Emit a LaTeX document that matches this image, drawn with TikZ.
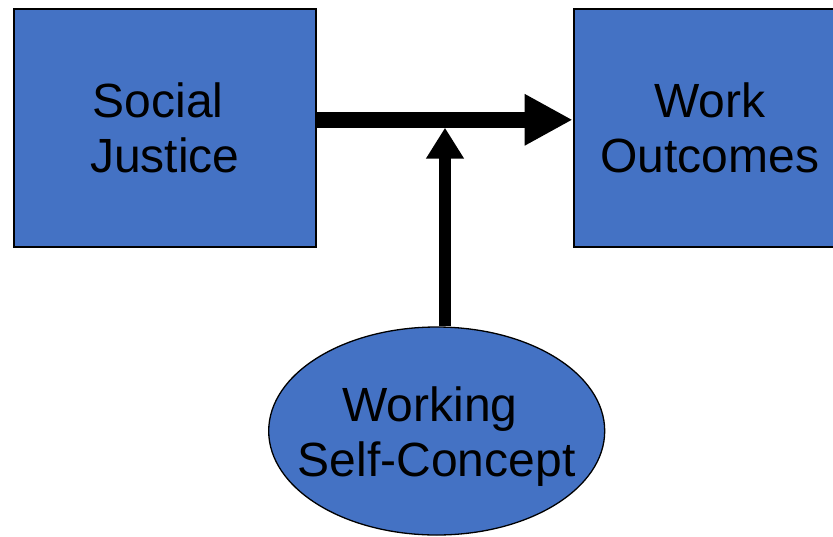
\documentclass[tikz,border=0pt]{standalone}
\usepackage{fontspec}
\setmainfont{Liberation Sans}
\usetikzlibrary{arrows.meta,shapes.geometric}
\definecolor{boxblue}{HTML}{4472C4}
\tikzset{
  concept/.style={draw=black, fill=boxblue, line width=2pt, inner sep=0pt},
  conceptbox/.style={concept, rectangle, align=center, font=\fontsize{48}{55}\selectfont},
  conceptoval/.style={concept, ellipse, line width=1.3pt},
  concepttext/.style={inner sep=0pt, align=center, font=\fontsize{48}{55}\selectfont},
  bigarrow/.style={line width=16pt, -{Triangle[length=48pt,width=48pt]}},
  modarrow/.style={line width=12pt, -{Triangle[length=31pt,width=36pt]}}
}
% a trailing word space, kept at the end of a centred line
\newcommand{\trailsp}{\hspace*{0.278em}}
\begin{document}
\begin{tikzpicture}[x=1pt,y=-1pt]
  \useasboundingbox (0,0) rectangle (833,536);
  % predictor and outcome boxes
  \node[conceptbox, minimum width=302pt, minimum height=238pt] (sj) at (164.7,127.8) {Social\trailsp\\Justice};
  \node[conceptbox, minimum width=272pt, minimum height=238pt] (wo) at (709.7,127.8) {Work\\Outcomes};
  % moderator: the oval and its two-line label
  \node[conceptoval, minimum width=336pt, minimum height=208pt] (wsc) at (436.7,431) {};
  \node[concepttext] (wsclabel) at ([yshift=-6pt]wsc.center) {Working\trailsp\\Self-Concept};
  % main effect
  \draw[bigarrow] ([yshift=8pt]sj.east) -- ([yshift=8pt]wo.west);
  % moderating path meets the main effect from below
  \coordinate (meet) at (445,127.7);
  \draw[modarrow] (meet |- wsc.north) -- (meet);
\end{tikzpicture}
\end{document}
